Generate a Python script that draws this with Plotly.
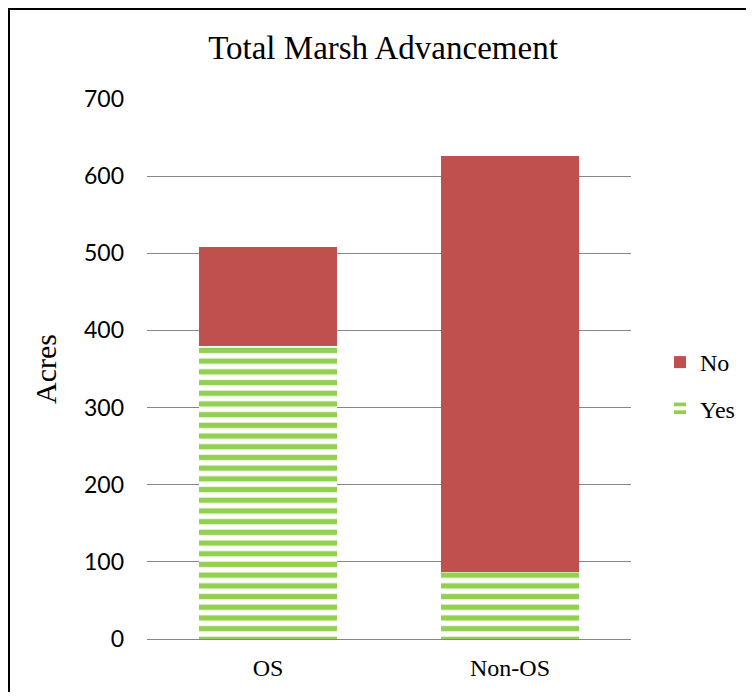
import plotly.graph_objects as go

categories = ["OS", "Non-OS"]
yes_values = [380, 87]
no_values = [128, 539]
y_ticks = [0, 100, 200, 300, 400, 500, 600, 700]

serif = "Liberation Serif"
sans = "Lato"

fig = go.Figure()
fig.add_trace(go.Bar(
    x=categories, y=yes_values, name="Yes", legendgroup="yes", legendrank=2,
    marker=dict(color="white", line=dict(width=0),
                pattern=dict(shape="-", fgcolor="#92D050", bgcolor="white",
                             size=10.7, solidity=0.5, fillmode="replace")),
))
fig.add_trace(go.Bar(
    x=categories, y=no_values, name="No", legendgroup="no", legendrank=1,
    marker=dict(color="#C0504D", line=dict(width=0)),
))

# page is rendered with an 8px body margin; coordinates below are figure coords
L, R, T, B = 139, 623, 91, 631
W, H = 746, 684
pw, ph = R - L, B - T

fig.update_layout(
    width=W, height=H,
    barmode="stack", bargap=0.43,
    margin=dict(l=L, r=W - R, t=T, b=H - B),
    paper_bgcolor="white", plot_bgcolor="white",
    title=dict(text="Total Marsh Advancement", x=375 / W, xanchor="center",
               y=1 - 39 / H, yanchor="middle",
               font=dict(family=serif, size=33, color="black")),
    xaxis=dict(showgrid=False, showline=False, ticks="",
               tickfont=dict(family=serif, size=24, color="black"),
               ticklabelstandoff=12),
    yaxis=dict(range=[0, 700], tickvals=y_ticks, showgrid=True,
               gridcolor="#868686", gridwidth=1.3, zeroline=True,
               zerolinecolor="#868686", zerolinewidth=1.3,
               tickfont=dict(family=sans, size=23, color="black"),
               ticklabelstandoff=22,
               title=dict(text="Acres", font=dict(family=serif, size=30, color="black"),
                          standoff=18)),
    legend=dict(x=(652 - L) / pw, xanchor="left", y=(B - 332) / ph, yanchor="top",
                traceorder="grouped", tracegroupgap=12,
                font=dict(family=serif, size=24, color="black"),
                bgcolor="rgba(0,0,0,0)"),
    shapes=[
        dict(type="line", xref="paper", yref="paper",
             x0=(0 - L) / pw, x1=(W - L) / pw, y0=(B - 1) / ph, y1=(B - 1) / ph,
             line=dict(color="black", width=2)),
        dict(type="line", xref="paper", yref="paper",
             x0=(1 - L) / pw, x1=(1 - L) / pw, y0=(B - H) / ph, y1=(B - 0) / ph,
             line=dict(color="black", width=2)),
    ],
)

fig.write_html("out.html")
